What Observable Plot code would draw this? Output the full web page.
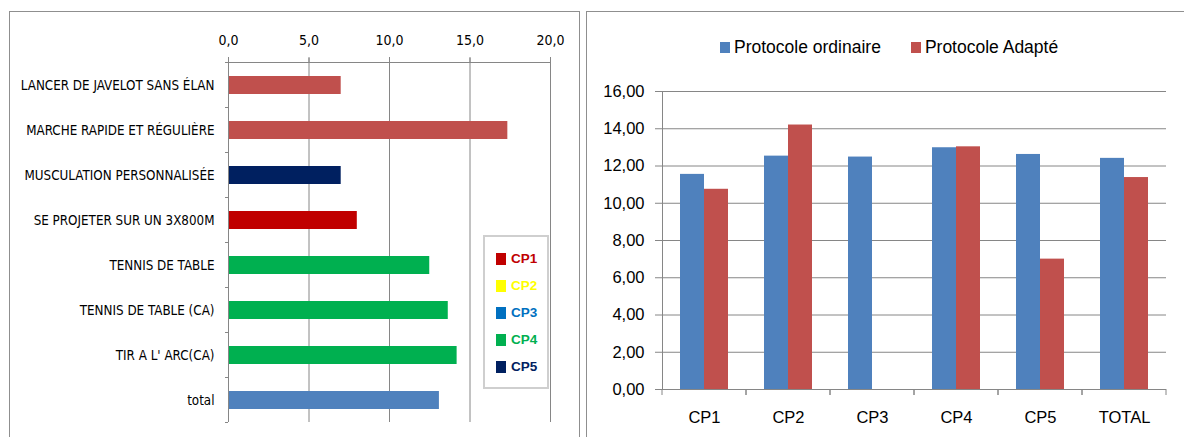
<!DOCTYPE html>
<html lang="fr">
<head>
<meta charset="utf-8">
<script src="https://cdn.jsdelivr.net/npm/d3@7"></script>
<script src="https://cdn.jsdelivr.net/npm/@observablehq/plot@0.6"></script>
<style>
  body { margin: 0; background: #fff; }
  #root { position: relative; width: 1184px; height: 437px; overflow: hidden; background: #fff; }
  .panel { position: absolute; border: 1.5px solid #8f8f8f; box-sizing: border-box; }
  #left, #right { position: absolute; top: 0; }
  #left { left: 0; }
  #right { left: 586px; }
  #legL { position: absolute; left: 483px; top: 235px; width: 66px; height: 154px; box-sizing: border-box;
          border: 2px solid #cfcfcf; padding: 8px 0 0 11px; font-family: "Liberation Sans", Arial, sans-serif;
          font-weight: bold; font-size: 13.5px; }
  #legL .it { display: flex; align-items: center; height: 27px; }
  #legL .sw { width: 10px; height: 12px; margin-right: 5px; }
  #legR { position: absolute; left: 720px; top: 37px; display: flex; align-items: center;
          font-family: "Liberation Sans", Arial, sans-serif; font-size: 17.5px; color: #000; }
  #legR .it { display: flex; align-items: center; margin-right: 30px; }
  #legR .sw { width: 10px; height: 11px; margin-right: 4px; }
</style>
</head>
<body>
<div id="root">
  <div class="panel" style="left:9px;top:11px;width:571px;height:470px;"></div>
  <div class="panel" style="left:586px;top:11px;width:640px;height:470px;"></div>
  <div id="left"></div>
  <div id="right"></div>
  <div id="legL"></div>
  <div id="legR"></div>
</div>
<script>
// ---------- Left chart data ----------
const activites = [
  "LANCER DE JAVELOT SANS ÉLAN",
  "MARCHE RAPIDE ET RÉGULIÈRE",
  "MUSCULATION PERSONNALISÉE",
  "SE PROJETER SUR UN 3X800M",
  "TENNIS DE TABLE",
  "TENNIS DE TABLE (CA)",
  "TIR A L' ARC(CA)",
  "total"
];
const notesActivites = [7.0, 17.35, 7.0, 8.0, 12.5, 13.65, 14.2, 13.1];
const groupesActivites = ["autre", "autre", "CP5", "CP1", "CP4", "CP4", "CP4", "total"];
const xTicksLeft = [0, 5, 10, 15, 20];
const legendeCP = ["CP1", "CP2", "CP3", "CP4", "CP5"];

// ---------- Right chart data ----------
const categories = ["CP1", "CP2", "CP3", "CP4", "CP5", "TOTAL"];
const series = ["Protocole ordinaire", "Protocole Adapté"];
const protocoleOrdinaire = [11.55, 12.53, 12.48, 12.98, 12.62, 12.41];
const protocoleAdapte = [10.75, 14.2, null, 13.03, 7.0, 11.38];
const yTicksRight = [0, 2, 4, 6, 8, 10, 12, 14, 16];

// ---------- Styles ----------
const grid = "#868686";
const cpColors = {CP1: "#C00000", CP2: "#FFFF00", CP3: "#0070C0", CP4: "#00B050", CP5: "#002060"};
const serieColors = ["#4F81BD", "#C0504D"];

const fr = (n, d) => n.toFixed(d).replace(".", ",");

// ---------- Left chart ----------
const leftData = activites.map((a, i) => ({act: a, val: notesActivites[i], grp: groupesActivites[i]}));

const yBoundaryTicks = (index, scales) => {
  const y = scales.y, x = scales.x;
  const step = y.step(), bw = y.bandwidth();
  const x0 = x(0);
  const b = activites.map(a => y(a) + bw / 2 - step / 2);
  b.push(y(activites[activites.length - 1]) + bw / 2 + step / 2);
  const g = d3.create("svg:g").attr("stroke", grid);
  g.selectAll("line").data(b).join("line")
    .attr("x1", x0 - 3).attr("x2", x0).attr("y1", d => d).attr("y2", d => d);
  return g.node();
};

const left = Plot.plot({
  width: 582, height: 437,
  marginLeft: 228, marginRight: 32, marginTop: 62, marginBottom: 15,
  style: {fontFamily: "'Liberation Sans Narrow', 'DejaVu Sans Condensed', sans-serif", fontSize: "13.3px", color: "#000", background: "transparent", overflow: "visible"},
  x: {domain: [0, 20], axis: null},
  y: {domain: activites, paddingInner: 0.61, paddingOuter: 0.305, axis: null},
  color: {domain: ["autre", "CP1", "CP2", "CP3", "CP4", "CP5", "total"],
          range: ["#C0504D", cpColors.CP1, cpColors.CP2, cpColors.CP3, cpColors.CP4, cpColors.CP5, "#4F81BD"]},
  marks: [
    Plot.ruleX(xTicksLeft.slice(1), {stroke: grid, insetTop: -5}),
    Plot.axisX({anchor: "top", ticks: xTicksLeft, tickFormat: d => fr(d, 1), tickSize: 5, tickPadding: 13, stroke: grid, fontSize: 14, label: null}),
    Plot.barX(leftData, {y: "act", x: "val", fill: "grp"}),
    Plot.ruleX([0], {stroke: grid, insetTop: -5}),
    Plot.frame({anchor: "top", stroke: grid}),
    yBoundaryTicks,
    Plot.axisY({anchor: "left", tickSize: 0, tickPadding: 14, label: null})
  ]
});
document.getElementById("left").append(left);

// ---------- Right chart ----------
const rightData = categories.flatMap((c, i) => [
  {cat: c, serie: series[0], val: protocoleOrdinaire[i]},
  {cat: c, serie: series[1], val: protocoleAdapte[i]}
]).filter(d => d.val != null);

const xBoundaryTicks = (index, scales) => {
  const [a, b] = scales.x.range();
  const y0 = scales.y(0);
  const g = d3.create("svg:g").attr("stroke", grid);
  g.selectAll("line").data([a, b]).join("line")
    .attr("x1", d => d).attr("x2", d => d).attr("y1", y0).attr("y2", y0 + 6);
  return g.node();
};

const right = Plot.plot({
  width: 598, height: 437,
  marginLeft: 76, marginRight: 18, marginTop: 91, marginBottom: 48,
  style: {fontFamily: "'Liberation Sans', Arial, sans-serif", fontSize: "16.5px", color: "#000", background: "transparent", overflow: "visible"},
  fx: {domain: categories, padding: 0, label: null},
  x: {domain: series, paddingInner: 0, paddingOuter: 0.75, axis: null},
  y: {domain: [0, 16], label: null},
  color: {domain: series, range: serieColors},
  marks: [
    Plot.ruleY(yTicksRight, {stroke: grid}),
    Plot.axisY({ticks: yTicksRight, tickFormat: d => fr(d, 2), tickSize: 7, tickPadding: 11, stroke: grid, label: null}),
    Plot.axisFx({anchor: "bottom", tickSize: 0, tickPadding: 22, label: null}),
    Plot.barY(rightData, {fx: "cat", x: "serie", y: "val", fill: "serie"}),
    Plot.frame({anchor: "left", facetAnchor: "left", stroke: grid}),
    xBoundaryTicks
  ]
});
document.getElementById("right").append(right);

// ---------- Legends ----------
const legL = d3.select("#legL");
legendeCP.forEach(k => {
  const it = legL.append("div").attr("class", "it");
  it.append("div").attr("class", "sw").style("background", cpColors[k]);
  it.append("span").style("color", cpColors[k]).text(k);
});
const legR = d3.select("#legR");
series.forEach((s, i) => {
  const it = legR.append("div").attr("class", "it");
  it.append("div").attr("class", "sw").style("background", serieColors[i]);
  it.append("span").text(s);
});
</script>
</body>
</html>
